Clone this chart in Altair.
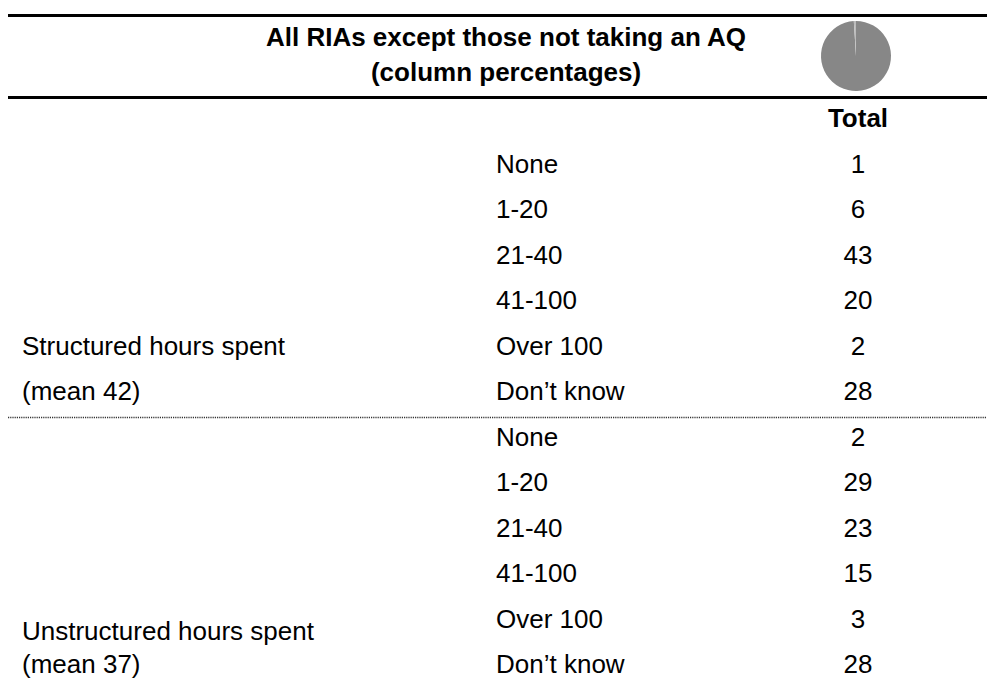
import altair as alt
import pandas as pd

# ---------------- data ----------------
title_lines = ["All RIAs except those not taking an AQ", "(column percentages)"]
column_header = "Total"
categories = ["None", "1-20", "21-40", "41-100", "Over 100", "Don\u2019t know"]
structured_values = [1, 6, 43, 20, 2, 28]
unstructured_values = [2, 29, 23, 15, 3, 28]
group_names = ["Structured hours spent", "Unstructured hours spent"]
group_means = ["(mean 42)", "(mean 37)"]
pie_parts = ["Base", "Other"]
pie_values = [99, 1]

# ---------------- layout ----------------
W, H = 979, 671
FONT = "Liberation Sans"
FS = 26
X_POS = {"group": 14, "category": 488, "total": 850, "title": 498}
ROW0_Y = 111.0     # plot-y of the header row
ROW_H = 45.5       # row pitch

xscale = alt.Scale(domain=[0, W], nice=False, zero=False)
yscale = alt.Scale(domain=[-ROW0_Y / ROW_H, (H - ROW0_Y) / ROW_H],
                   nice=False, zero=False, reverse=True)

# bold, centred text: title + column header
bold_rows = [
    {"text": title_lines[0], "x": X_POS["title"], "k": -1.78},
    {"text": title_lines[1], "x": X_POS["title"], "k": -1.02},
    {"text": column_header, "x": X_POS["total"], "k": 0},
]
bold_df = pd.DataFrame(bold_rows)

left_rows, value_rows = [], []
for g, vals in enumerate([structured_values, unstructured_values]):
    for i, (cat, v) in enumerate(zip(categories, vals)):
        k = 1 + 6 * g + i
        left_rows.append({"text": cat, "x": X_POS["category"], "k": k})
        value_rows.append({"text": str(v), "x": X_POS["total"], "k": k})
# group labels
left_rows.append({"text": group_names[0], "x": X_POS["group"], "k": 5})
left_rows.append({"text": group_means[0], "x": X_POS["group"], "k": 6})
left_rows.append({"text": group_names[1], "x": X_POS["group"], "k": 11.27})
left_rows.append({"text": group_means[1], "x": X_POS["group"], "k": 12})
left_df = pd.DataFrame(left_rows)
value_df = pd.DataFrame(value_rows)

thick_df = pd.DataFrame({"k": [-2.275, -0.4725]})
dotted_df = pd.DataFrame({"k": [6.56]})
pie_df = pd.DataFrame({"part": pie_parts, "v": pie_values, "idx": [0, 1],
                       "x": [X_POS["total"] - 2] * 2, "k": [-1.385] * 2})

X = lambda: alt.X("x:Q", scale=xscale, axis=None)
Y = lambda: alt.Y("k:Q", scale=yscale, axis=None)

bold = alt.Chart(bold_df).mark_text(
    font=FONT, fontSize=FS, fontWeight="bold", align="center", baseline="middle", color="#000000"
).encode(x=X(), y=Y(), text="text:N")

left = alt.Chart(left_df).mark_text(
    font=FONT, fontSize=FS, align="left", baseline="middle", color="#000000"
).encode(x=X(), y=Y(), text="text:N")

values = alt.Chart(value_df).mark_text(
    font=FONT, fontSize=FS, align="center", baseline="middle", color="#000000"
).encode(x=X(), y=Y(), text="text:N")

thick = alt.Chart(thick_df).mark_rule(color="#000000", strokeWidth=3).encode(
    y=Y(), x=alt.value(0), x2=alt.value(W))

dotted = alt.Chart(dotted_df).mark_rule(color="#333333", strokeWidth=1.3, strokeDash=[1.2, 1]).encode(
    y=Y(), x=alt.value(0), x2=alt.value(W))

pie = alt.Chart(pie_df).mark_arc(radius=35).encode(
    theta=alt.Theta("v:Q", stack=True),
    color=alt.Color("part:N", scale=alt.Scale(domain=pie_parts, range=["#878787", "#bcbcbc"]), legend=None),
    order=alt.Order("idx:Q"),
    x=X(), y=Y())

chart = alt.layer(thick, dotted, pie, bold, left, values).properties(
    width=W, height=H, padding=0,
    autosize=alt.AutoSizeParams(type="none"),
).configure_view(strokeWidth=0)

chart.save("out.html", embed_options={"renderer": "svg", "actions": False})
